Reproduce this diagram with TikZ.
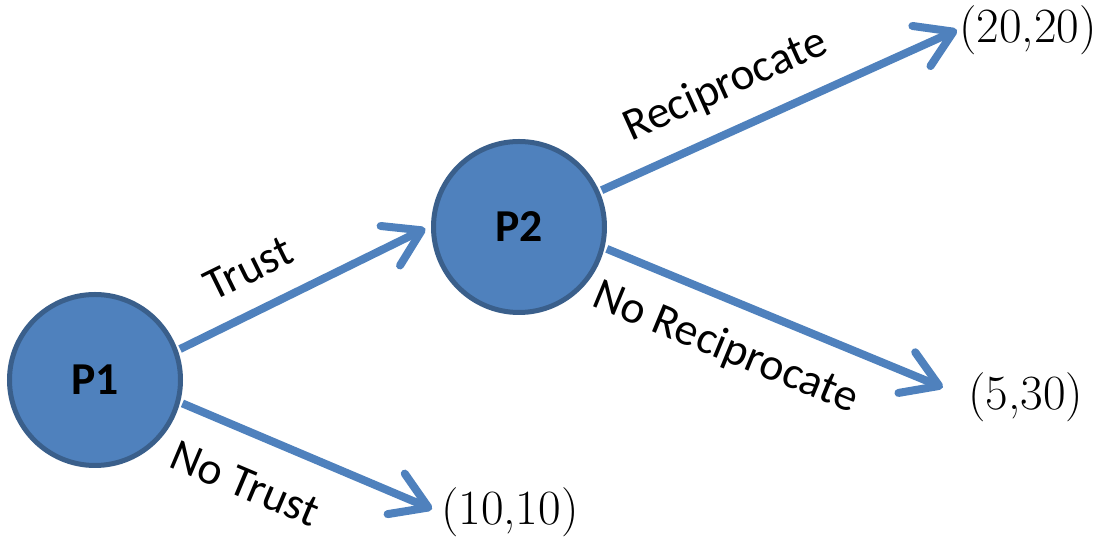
\documentclass[tikz,border=0pt]{standalone}
\usepackage{fontspec}
\setsansfont{Carlito}
\usetikzlibrary{arrows.meta}

\definecolor{nodeblue}{HTML}{4F81BD}
\definecolor{nodeedge}{HTML}{3A5F8B}

\begin{document}
\begin{tikzpicture}[
    player/.style={circle,fill=nodeblue,draw=nodeedge,line width=0.1cm,
        minimum size=3.42cm,inner sep=0pt,outer sep=0.1cm,
        font=\sffamily\bfseries\fontsize{26}{30}\selectfont},
    payoff/.style={anchor=west,inner sep=1pt,font=\fontsize{28}{32}\selectfont},
    move/.style={draw=nodeblue,line width=0.16cm,
        -{Straight Barb[length=0.7cm,width=0.88cm,round]}},
    movelabel/.style={sloped,font=\sffamily\fontsize{26}{30}\selectfont}
  ]
        % --- 1. Canvas ---
        \useasboundingbox (0,0) rectangle (22.3,10.8);

        % --- 2. Players ---
        \node[player] (P1) at (1.9,3.2) {P1};
        \node[player] (P2) at (10.38,6.26) {P2};

        % --- 3. Payoffs ---
        \node[payoff] (Pay1) at (19.14,10.2) {(20,20)};
        \node[payoff] (Pay2) at (19.32,2.86) {(5,30)};
        \node[payoff] (Pay3) at (8.78,0.56) {(10,10)};

        % --- 4. Moves ---
        \draw[move,shorten >=2pt] (P1.20) -- (P2.west)
            node[movelabel,pos=0.35,above=0.35cm] {Trust};
        \draw[move,shorten >=0.15cm] (P1.-15) -- (Pay3.west)
            node[movelabel,pos=0.32,below=0.5cm] {No Trust};
        \draw[move] (P2.24) -- (Pay1.west)
            node[movelabel,pos=0.4,above=0.3cm] {Reciprocate};
        \draw[move,shorten >=0.5cm] (P2.-14) -- (Pay2.west)
            node[movelabel,pos=0.38,below=0.35cm] {No Reciprocate};

    \end{tikzpicture}
\end{document}
